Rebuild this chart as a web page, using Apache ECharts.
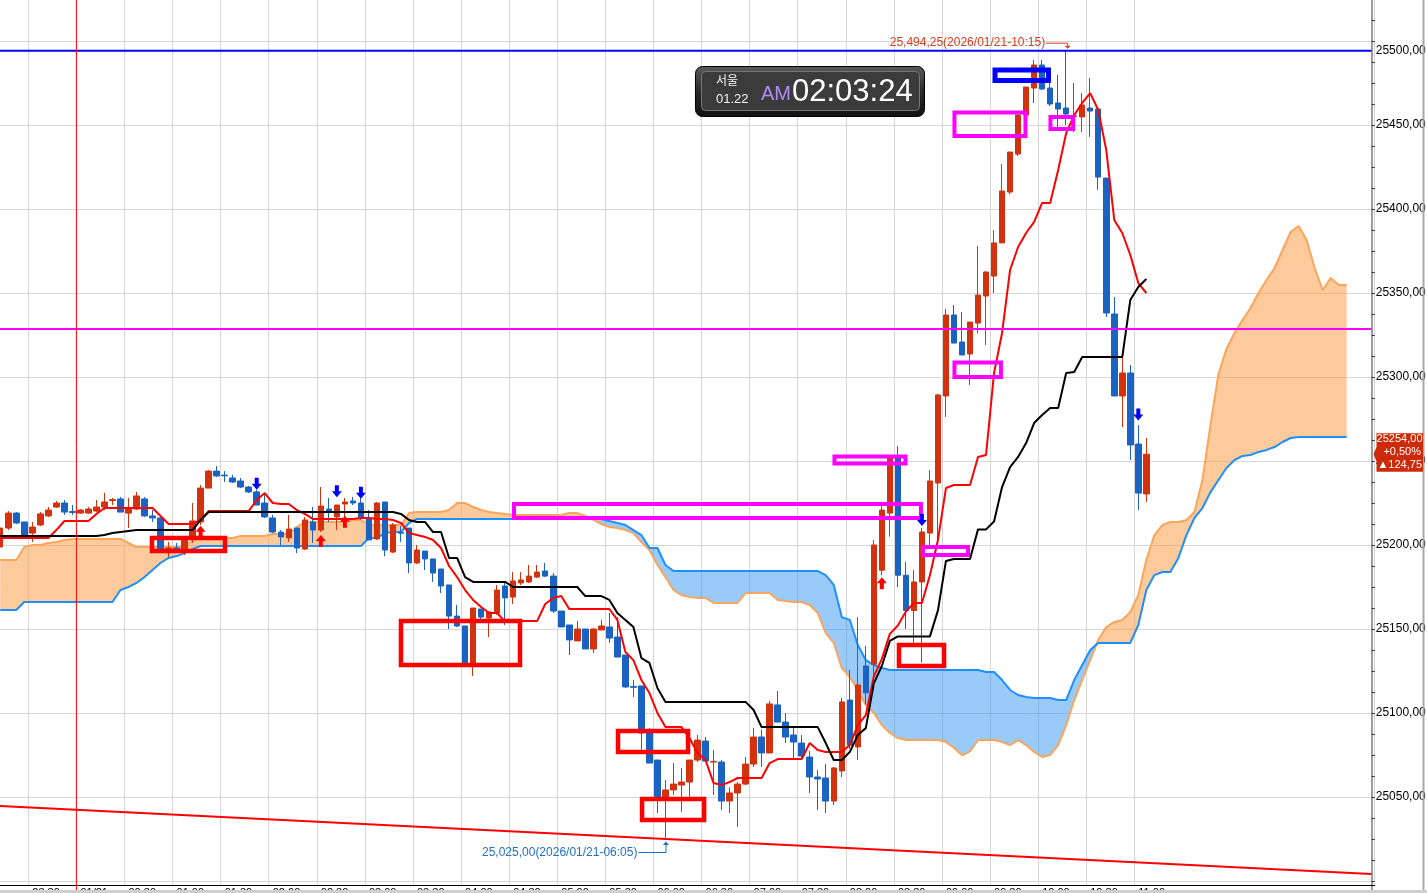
<!DOCTYPE html>
<html><head><meta charset="utf-8">
<script src="https://cdn.jsdelivr.net/npm/echarts@6.0.0/dist/echarts.min.js"></script>
<style>html,body{margin:0;padding:0;background:#fff;}#c{width:1427px;height:893px;}</style>
</head><body><div id="c"></div>
<script>
// ---------- data ----------
const slotCount = 172;
const tickIdx  = [4,10,16,22,28,34,40,46,52,58,64,70,76,82,88,94,100,106,112,118,124,130,136,142];
const tickText = ['23:30','01/21','00:30','01:00','01:30','02:00','02:30','03:00','03:30','04:00','04:30','05:00','05:30','06:00','06:30','07:00','07:30','08:00','08:30','09:00','09:30','10:00','10:30','11:00'];

const opens = [
25198.8,25210.1,25219.0,25213.7,25207.1,25211.9,25217.3,25222.6,25225.0,25219.9,
25219.0,25219.0,25220.2,25222.6,25226.5,25227.4,25219.0,25221.4,25227.4,25217.3,
25216.1,25197.0,25198.2,25197.0,25204.2,25213.7,25233.9,25244.0,25241.6,25239.9,
25238.1,25234.5,25231.6,25225.0,25216.1,25207.7,25204.2,25210.1,25197.6,25213.7,
25208.9,25221.4,25216.7,25224.4,25226.2,25225.0,25215.5,25203.6,25225.6,25195.8,
25207.5,25210.1,25189.3,25196.4,25191.7,25185.7,25176.2,25157.7,25151.8,25129.8,
25161.9,25156.5,25159.5,25175.6,25169.0,25177.4,25178.0,25180.9,25184.5,25181.5,
25160.7,25152.4,25142.9,25150.0,25138.1,25149.4,25151.2,25145.2,25134.5,25115.8,
25116.1,25088.1,25072.0,25050.0,25054.2,25057.1,25058.9,25072.0,25083.3,25070.8,
25070.8,25047.6,25052.4,25057.7,25069.6,25085.7,25076.2,25104.8,25094.6,25086.9,
25082.1,25073.8,25061.9,25061.3,25047.6,25065.5,25107.7,25079.8,25128.0,25129.0,
25185.0,25219.0,25251.8,25182.0,25161.0,25178.0,25207.1,25236.9,25288.7,25336.9,
25320.8,25313.7,25332.1,25348.2,25360.1,25379.8,25410.1,25432.7,25455.9,25472.0,
25485.7,25472.0,25463.1,25460.1,25455.0,25454.8,25460.1,25459.5,25418.4,25337.5,
25288.7,25302.4,25260.1,25230.4];
const closes = [
25210.1,25219.0,25213.1,25205.9,25210.7,25218.5,25220.8,25225.0,25219.6,25219.4,
25220.8,25221.4,25222.6,25225.6,25227.0,25219.6,25221.4,25229.2,25217.3,25216.1,
25197.6,25198.2,25197.0,25204.2,25214.3,25233.9,25244.0,25241.1,25241.2,25237.5,
25234.5,25231.6,25223.8,25216.7,25207.7,25204.8,25209.5,25198.2,25214.9,25208.9,
25223.2,25219.6,25223.8,25225.6,25225.0,25216.1,25203.0,25225.0,25197.0,25211.9,
25207.0,25189.3,25197.0,25191.7,25183.3,25175.6,25157.7,25151.8,25129.8,25162.5,
25157.1,25160.1,25173.2,25168.5,25178.6,25179.2,25181.5,25183.9,25181.5,25160.7,
25151.2,25143.5,25150.0,25138.1,25150.0,25151.8,25144.6,25133.3,25115.5,25115.3,
25088.1,25070.2,25050.0,25054.2,25057.7,25058.9,25072.0,25083.9,25071.4,25071.2,
25047.6,25052.4,25057.7,25069.6,25085.7,25076.2,25105.4,25094.6,25085.7,25082.7,
25074.4,25061.9,25060.7,25047.6,25067.3,25106.6,25080.9,25116.7,25112.0,25200.0,
25220.8,25251.8,25182.0,25161.0,25178.0,25207.7,25238.1,25289.3,25336.9,25320.2,
25313.1,25332.7,25348.8,25362.5,25379.8,25410.7,25433.9,25455.9,25472.6,25485.7,
25471.4,25462.5,25459.5,25456.5,25455.5,25461.9,25458.3,25419.0,25338.1,25288.7,
25302.4,25259.5,25230.9,25254.0];
const lows = [
25186.3,25208.9,25212.5,25205.4,25201.8,25211.3,25216.7,25222.0,25217.9,25217.9,
25218.5,25218.5,25219.6,25220.8,25223.8,25219.6,25210.1,25220.8,25216.7,25213.7,
25197.0,25192.9,25195.2,25194.0,25201.2,25211.9,25233.9,25240.5,25237.5,25236.9,
25233.9,25230.9,25223.8,25216.1,25207.1,25200.0,25201.8,25195.2,25197.0,25201.2,
25207.7,25213.7,25208.9,25216.1,25223.8,25214.9,25203.0,25203.0,25193.4,25195.2,
25201.8,25183.3,25188.7,25185.1,25178.0,25171.4,25150.0,25151.2,25129.8,25122.0,
25153.6,25145.2,25158.4,25152.4,25164.9,25176.2,25177.4,25180.3,25180.9,25159.5,
25151.2,25134.5,25142.9,25138.1,25135.7,25149.4,25141.7,25133.3,25114.9,25109.5,
25078.0,25070.2,25040.5,25025.0,25051.2,25041.1,25050.0,25070.8,25070.8,25051.2,
25042.3,25040.5,25032.2,25057.1,25067.9,25067.9,25076.2,25094.6,25082.1,25072.0,
25073.2,25052.4,25042.3,25040.5,25045.2,25061.9,25078.6,25072.0,25105.0,25116.0,
25182.0,25205.0,25175.0,25150.0,25140.0,25130.0,25200.0,25203.0,25276.2,25320.2,
25313.1,25295.2,25326.2,25319.0,25350.0,25379.8,25408.7,25431.5,25455.9,25463.1,
25470.8,25461.3,25448.8,25450.0,25445.8,25445.8,25442.9,25411.3,25335.7,25288.7,
25270.2,25250.6,25220.8,25225.6];
const highs = [
25210.7,25220.2,25219.6,25213.7,25213.7,25219.6,25222.6,25226.2,25226.8,25223.8,
25221.4,25222.6,25226.8,25231.0,25228.0,25228.6,25228.0,25231.6,25228.6,25220.8,
25216.1,25201.8,25201.2,25204.8,25225.0,25235.7,25244.6,25247.0,25244.0,25241.7,
25239.9,25235.1,25232.7,25230.9,25217.9,25208.9,25217.9,25210.1,25216.7,25222.6,
25234.5,25228.0,25223.8,25228.0,25228.6,25228.6,25220.8,25225.6,25225.6,25213.1,
25211.3,25210.1,25200.0,25196.4,25191.7,25185.7,25176.2,25164.3,25151.8,25162.5,
25161.9,25160.1,25176.2,25178.0,25183.9,25183.9,25188.1,25188.1,25189.3,25183.3,
25160.7,25152.4,25154.8,25150.0,25150.6,25155.4,25159.5,25157.1,25134.5,25119.6,
25116.1,25091.0,25072.0,25060.1,25070.2,25067.3,25072.0,25086.9,25085.7,25078.0,
25072.0,25055.8,25058.9,25073.8,25091.0,25090.0,25107.2,25113.1,25100.0,25091.6,
25086.9,25077.4,25066.1,25069.6,25067.9,25108.9,25125.6,25157.1,25140.0,25203.0,
25223.8,25253.6,25258.9,25190.0,25185.0,25210.0,25244.6,25290.0,25340.5,25342.9,
25338.7,25332.7,25378.0,25363.0,25387.5,25426.8,25433.9,25457.7,25472.6,25488.7,
25488.7,25475.0,25479.8,25494.25,25475.0,25469.0,25478.0,25460.1,25418.4,25347.6,
25311.9,25307.1,25271.4,25263.7];

const tenkan = [
25204.2,25204.2,25204.2,25204.2,25204.2,25204.2,25204.2,25208.9,25214.3,25214.3,
25214.3,25214.3,25218.5,25222.0,25222.0,25222.0,25222.0,25222.0,25222.0,25222.0,
25217.3,25212.5,25212.5,25212.5,25212.5,25214.9,25220.2,25220.2,25220.2,25220.2,
25220.2,25220.2,25226.8,25230.9,25225.0,25224.4,25224.4,25220.8,25218.5,25215.5,
25215.5,25215.5,25215.5,25215.5,25215.5,25216.1,25216.1,25215.5,25215.5,25214.9,
25213.1,25207.1,25205.9,25204.8,25203.0,25198.2,25187.5,25180.9,25173.2,25167.3,
25163.1,25159.5,25159.5,25154.2,25154.2,25154.8,25154.8,25154.8,25164.9,25168.5,
25169.6,25161.9,25161.9,25161.9,25161.9,25161.9,25161.9,25155.4,25136.3,25131.5,
25119.6,25111.9,25100.0,25091.6,25091.6,25091.6,25085.1,25076.2,25072.0,25058.3,
25057.1,25058.9,25061.3,25061.3,25061.3,25061.3,25070.2,25072.6,25072.6,25072.6,
25072.6,25082.1,25078.0,25076.8,25076.8,25076.8,25080.9,25092.8,25098.8,25121.8,
25132.2,25147.1,25152.1,25160.4,25165.5,25165.5,25182.0,25203.0,25233.9,25235.7,
25235.7,25235.7,25252.4,25253.6,25302.4,25326.2,25363.7,25377.4,25385.7,25392.3,
25403.6,25403.6,25423.2,25445.2,25455.9,25463.1,25469.0,25458.9,25435.1,25393.5,
25385.7,25372.6,25355.9,25350.0];
const kijun = [
25205.4,25205.4,25205.4,25205.4,25205.4,25205.4,25205.4,25205.4,25205.4,25205.4,
25205.4,25205.4,25205.4,25205.9,25207.1,25207.7,25208.3,25208.9,25208.9,25208.9,
25208.9,25208.9,25208.9,25208.9,25208.9,25214.9,25219.6,25219.6,25219.6,25219.6,
25219.6,25219.6,25219.6,25219.6,25219.6,25219.6,25219.6,25219.6,25219.6,25219.6,
25219.6,25219.6,25219.6,25219.6,25219.6,25219.6,25219.6,25219.6,25219.6,25219.6,
25218.5,25214.9,25213.7,25213.7,25207.7,25207.7,25192.3,25192.3,25180.9,25178.0,
25178.0,25178.0,25178.0,25178.0,25175.0,25175.0,25175.0,25175.0,25175.0,25175.0,
25175.0,25175.0,25175.0,25169.6,25169.6,25169.6,25167.3,25159.5,25155.4,25151.2,
25132.7,25129.8,25114.9,25106.6,25106.6,25106.6,25106.6,25106.6,25106.6,25106.6,
25106.6,25106.6,25106.6,25106.6,25101.8,25091.6,25091.6,25091.6,25091.6,25091.6,
25091.6,25091.6,25091.6,25082.1,25072.0,25072.0,25076.8,25086.9,25091.0,25117.6,
25128.0,25142.9,25145.6,25145.6,25145.6,25145.6,25145.6,25161.1,25190.5,25191.7,
25191.7,25191.7,25209.3,25209.3,25214.0,25234.5,25246.4,25252.4,25260.7,25272.6,
25277.4,25281.5,25281.5,25302.4,25303.0,25311.9,25311.9,25311.9,25311.9,25311.9,
25311.9,25345.8,25353.6,25358.3];

const senkouA = [
25191.1,25191.1,25191.1,25198.8,25200.0,25200.0,25201.2,25201.8,25203.0,25203.6,
25203.6,25203.6,25203.6,25203.6,25203.6,25203.6,25201.2,25198.8,25198.8,25198.8,
25198.8,25198.8,25198.8,25198.8,25203.0,25204.2,25204.2,25204.2,25204.2,25204.2,
25205.4,25205.4,25205.4,25205.4,25206.5,25206.5,25206.5,25210.7,25213.7,25213.7,
25213.7,25213.7,25213.7,25213.7,25214.9,25214.9,25211.9,25211.9,25211.9,25211.9,
25211.9,25219.0,25219.6,25219.6,25219.6,25219.6,25220.8,25225.0,25225.0,25222.6,
25220.8,25219.6,25219.0,25218.5,25217.9,25217.9,25217.9,25217.9,25217.9,25217.9,
25217.9,25219.0,25219.0,25217.3,25214.9,25212.5,25210.7,25210.1,25208.9,25207.1,
25201.8,25197.0,25188.1,25180.9,25173.2,25170.2,25169.0,25168.5,25168.5,25165.5,
25165.5,25165.5,25165.5,25171.4,25171.4,25171.4,25171.4,25167.3,25166.7,25166.1,
25166.1,25164.3,25159.5,25147.6,25141.7,25126.8,25121.4,25113.7,25104.8,25100.0,
25092.8,25088.1,25085.1,25083.9,25083.9,25083.9,25083.9,25083.9,25082.7,25079.3,
25074.8,25077.1,25083.9,25083.9,25083.9,25082.7,25080.9,25083.9,25080.9,25076.8,
25073.8,25075.0,25080.9,25092.8,25107.7,25119.6,25131.5,25143.5,25151.2,25154.2,
25155.4,25160.1,25170.2,25191.1,25205.9,25211.9,25213.7,25213.7,25214.9,25219.6,
25238.7,25271.4,25301.8,25316.8,25326.2,25333.9,25341.1,25350.0,25357.7,25364.9,
25375.6,25386.3,25389.9,25381.5,25364.9,25351.8,25358.9,25354.7,25354.7];
const senkouB = [
25161.3,25161.3,25161.3,25166.1,25166.1,25166.1,25166.1,25166.1,25166.1,25166.1,
25166.1,25166.1,25166.1,25166.1,25166.1,25173.2,25175.0,25177.4,25180.9,25185.1,
25189.3,25192.3,25193.4,25195.2,25197.6,25199.4,25199.4,25199.4,25199.4,25199.4,
25199.4,25199.4,25199.4,25199.4,25199.4,25199.4,25199.4,25199.4,25199.4,25199.4,
25199.4,25199.4,25199.4,25199.4,25199.4,25199.4,25204.2,25204.2,25207.1,25207.7,
25207.7,25213.1,25215.5,25215.5,25215.5,25215.5,25215.5,25215.5,25215.5,25215.5,
25215.5,25215.5,25215.5,25215.5,25215.5,25215.5,25215.5,25215.5,25215.5,25215.5,
25215.5,25215.5,25215.5,25215.5,25215.5,25215.5,25214.3,25213.1,25211.9,25208.9,
25205.9,25198.2,25198.2,25188.1,25184.5,25184.5,25184.5,25184.5,25184.5,25184.5,
25184.5,25184.5,25184.5,25184.5,25184.5,25184.5,25184.5,25184.5,25184.5,25184.5,
25184.5,25184.5,25184.5,25182.1,25176.2,25157.1,25155.4,25140.5,25131.5,25128.6,
25126.8,25125.6,25125.6,25125.6,25125.6,25125.6,25125.6,25125.6,25125.6,25125.6,
25125.6,25125.6,25125.6,25124.4,25124.4,25119.6,25113.7,25110.7,25109.5,25108.9,
25108.9,25108.9,25107.7,25107.7,25119.6,25128.6,25137.5,25141.7,25141.7,25141.7,
25141.7,25141.7,25152.4,25173.2,25182.1,25183.9,25183.9,25192.3,25205.9,25216.1,
25222.0,25231.5,25238.7,25245.8,25250.6,25253.0,25253.6,25255.4,25256.6,25258.3,
25261.3,25263.7,25264.3,25264.3,25264.3,25264.3,25264.3,25264.3,25264.3];

// annotations (data coordinates: slot index, price)
const highPoint = [133, 25494.25];
const lowPoint  = [83, 25025.00];
const lastClose = [143, 25254.00];
const hLineBlue = 25494.25;
const hLineMagenta = 25328.6;
const vLineRed = 9.5;
const trendX = [-0.5, 171.1];
const trendY = [25044.8, 25004.2];
const redBoxes = [[18.93,25204.2,28.04,25196.4],[50.0,25154.8,64.85,25128.6],[77.08,25089.3,85.82,25076.8],[80.08,25048.8,87.82,25036.3],[112.14,25140.5,117.76,25128.0]];
const magentaBoxes = [[64.1,25224.4,114.88,25216.1],[104.09,25252.7,112.95,25248.5],[115.13,25198.8,120.75,25194.0],[119.06,25308.6,124.86,25300.0],[119.06,25457.4,127.92,25443.5],[131.04,25454.8,133.87,25447.6]];
const blueBoxes = [[124.12,25482.7,130.79,25476.5]];
const downArrowX = [32, 42, 45, 115, 142];
const downArrowY = [25236.5, 25232.0, 25231.1, 25214.9, 25277.7];
const upArrowX = [25, 40, 43, 110];
const upArrowY = [25207.9, 25202.4, 25213.9, 25177.2];

// ---------- build ----------
const cats = []; for (let i = 0; i < slotCount; i++) cats.push(String(i));
const tickMap = {}; tickIdx.forEach((k, j) => tickMap[k] = tickText[j]);
const candleData = opens.map((o, i) => [o, closes[i], lows[i], highs[i]]);
const cloudBase = senkouA.map((a, i) => Math.min(a, senkouB[i]));
const cloudUp = senkouA.map((a, i) => Math.max(a - senkouB[i], 0));
const cloudDown = senkouA.map((a, i) => Math.max(senkouB[i] - a, 0));

const RED = '#D3320E', BLUE = '#1A63C2';
const FONT = 'Liberation Sans';

function boxSeries(data, color, width) {
  return {
    type: 'custom', xAxisIndex: 1, yAxisIndex: 0, data: data, encode: { x: [0, 2], y: [1, 3] },
    clip: false, z: 8, silent: true,
    renderItem: function (params, api) {
      const p1 = api.coord([api.value(0), api.value(1)]);
      const p2 = api.coord([api.value(2), api.value(3)]);
      return { type: 'rect', shape: { x: Math.min(p1[0], p2[0]), y: Math.min(p1[1], p2[1]), width: Math.abs(p2[0] - p1[0]), height: Math.abs(p2[1] - p1[1]) },
        style: { fill: 'none', stroke: color, lineWidth: width } };
    }
  };
}
function segLine(data, color, width, z) {
  return { type: 'line', xAxisIndex: 1, yAxisIndex: 0, data: data, symbol: 'none', silent: true, z: z,
    lineStyle: { color: color, width: width } };
}

const chart = echarts.init(document.getElementById('c'), null, { renderer: 'canvas' });
const GL = -3.76, GR = 52.26;
const option = {
  animation: false,
  backgroundColor: '#ffffff',
  grid: [
    { left: GL, right: GR, top: -43, bottom: -72, outerBoundsMode: 'none', containLabel: false },
    { left: GL, right: GR, top: 0, bottom: 8, outerBoundsMode: 'none', containLabel: false }
  ],
  xAxis: [
    { type: 'category', gridIndex: 0, data: cats, boundaryGap: true, show: false },
    { type: 'value', gridIndex: 0, min: -0.5, max: slotCount - 0.5, show: false, axisLine: { onZero: false } },
    { type: 'category', gridIndex: 1, data: cats, boundaryGap: true,
      axisLine: { show: true, onZero: false, lineStyle: { color: '#000', width: 1 } },
      axisTick: { show: false },
      axisLabel: { interval: (i) => tickMap[i] !== undefined, formatter: (v) => tickMap[+v] || '',
        align: 'left', margin: 2, fontSize: 11, color: '#000', fontFamily: FONT, hideOverlap: false },
      splitLine: { show: true, interval: (i) => tickMap[i] !== undefined, lineStyle: { color: '#D6D6D6', width: 1 } } }
  ],
  yAxis: [
    { type: 'value', gridIndex: 0, position: 'right', offset: -3, min: 24950, max: 25550, interval: 50,
      axisLine: { show: true, onZero: false, lineStyle: { color: '#9C9C9C', width: 2 } },
      axisTick: { show: true, length: 3, lineStyle: { color: '#333' } },
      minorTick: { show: true, splitNumber: 4, length: 3, lineStyle: { color: '#333' } },
      axisLabel: { margin: 4, fontSize: 12, color: '#000', fontFamily: FONT,
        formatter: (v) => { if (v < 25050 || v > 25500) return ''; const s = v.toFixed(2).replace('.', ','); return v === 25500 ? '{t|' + s + '}' : s; },
        rich: { t: { padding: [20, 0, 0, 0], fontSize: 12, fontFamily: FONT, color: '#000' } } },
      splitLine: { show: true, lineStyle: { color: '#D6D6D6', width: 1 } } },
    { type: 'value', gridIndex: 1, show: false, min: 0, max: 1,
      axisLine: { show: false, onZero: false }, axisTick: { show: false }, axisLabel: { show: false }, splitLine: { show: false } }
  ],
  series: [
    { name: 'cloudBase', type: 'line', xAxisIndex: 0, yAxisIndex: 0, stack: 'cloud', data: cloudBase, symbol: 'none', silent: true, z: 1,
      lineStyle: { opacity: 0 } },
    { name: 'cloudUp', type: 'line', xAxisIndex: 0, yAxisIndex: 0, stack: 'cloud', data: cloudUp, symbol: 'none', silent: true, z: 1,
      lineStyle: { opacity: 0 }, areaStyle: { color: 'rgba(251,160,72,0.55)', opacity: 1 } },
    { name: 'cloudDown', type: 'line', xAxisIndex: 0, yAxisIndex: 0, stack: 'cloud', data: cloudDown, symbol: 'none', silent: true, z: 1,
      lineStyle: { opacity: 0 }, areaStyle: { color: 'rgba(30,140,240,0.45)', opacity: 1 } },
    { name: 'senkouA', type: 'line', xAxisIndex: 0, yAxisIndex: 0, data: senkouA, symbol: 'none', silent: true, z: 2,
      lineStyle: { color: '#FAA55C', width: 2 } },
    { name: 'senkouB', type: 'line', xAxisIndex: 0, yAxisIndex: 0, data: senkouB, symbol: 'none', silent: true, z: 2,
      lineStyle: { color: '#1E8FFF', width: 2 } },
    { name: 'candles', type: 'candlestick', xAxisIndex: 0, yAxisIndex: 0, data: candleData, barWidth: 6, z: 3, silent: true,
      itemStyle: { color: RED, color0: BLUE, borderColor: RED, borderColor0: BLUE, borderWidth: 1 } },
    { name: 'tenkan', type: 'line', xAxisIndex: 0, yAxisIndex: 0, data: tenkan, symbol: 'none', silent: true, z: 4,
      lineStyle: { color: '#FF0000', width: 2 } },
    { name: 'kijun', type: 'line', xAxisIndex: 0, yAxisIndex: 0, data: kijun, symbol: 'none', silent: true, z: 4,
      lineStyle: { color: '#000000', width: 2 } },
    segLine([[trendX[0], trendY[0]], [trendX[1], trendY[1]]], '#FF0000', 2, 5),
    segLine([[-0.5, hLineBlue], [171.1, hLineBlue]], '#0000FF', 2, 5),
    segLine([[-0.5, hLineMagenta], [171.1, hLineMagenta]], '#FF00FF', 2, 5),
    { type: 'line', xAxisIndex: 1, yAxisIndex: 0, data: [[vLineRed, 24950], [vLineRed, 25550]], symbol: 'none', silent: true, z: 5,
      lineStyle: { color: '#FF0000', width: 1 } },
    boxSeries(redBoxes, '#FF0000', 4.5),
    boxSeries(magentaBoxes, '#FF00FF', 4),
    boxSeries(blueBoxes, '#0000FF', 5),
    { type: 'scatter', xAxisIndex: 1, yAxisIndex: 0, z: 9, silent: true,
      data: downArrowX.map((x, i) => [x, downArrowY[i]]),
      symbol: 'path://M3,0L7,0L7,6L10,6L5,12L0,6L3,6Z', symbolSize: [10, 12], itemStyle: { color: '#0000FF', opacity: 1 } },
    { type: 'scatter', xAxisIndex: 1, yAxisIndex: 0, z: 9, silent: true,
      data: upArrowX.map((x, i) => [x, upArrowY[i]]),
      symbol: 'path://M5,0L10,6L7,6L7,12L3,12L3,6L0,6Z', symbolSize: [10, 12], itemStyle: { color: '#FF0000', opacity: 1 } }
  ]
};
chart.setOption(option);

const finder = { xAxisIndex: 1, yAxisIndex: 0 };
const hp = chart.convertToPixel(finder, highPoint);
const lp = chart.convertToPixel(finder, lowPoint);
const cp = chart.convertToPixel(finder, lastClose);
const fmt = (v) => v.toFixed(2).replace('.', ',').replace(/^(\d\d)(\d\d\d)/, '$1,$2');
const HC = '#D4401C', LC = '#1F6FC6';

const graphics = [
  { type: 'text', z: 50, style: { x: hp[0] - 21, y: hp[1] - 7.5, text: fmt(highPoint[1]) + '(2026/01/21-10:15)', fill: HC, font: '12px "' + FONT + '"', align: 'right', verticalAlign: 'middle' } },
  { type: 'polyline', z: 50, shape: { points: [[hp[0] - 20, hp[1] - 7.5], [hp[0] + 1.5, hp[1] - 7.5], [hp[0] + 1.5, hp[1] - 4]] }, style: { stroke: HC, lineWidth: 1, fill: 'none' } },
  { type: 'polygon', z: 50, shape: { points: [[hp[0] - 1.5, hp[1] - 5], [hp[0] + 4.5, hp[1] - 5], [hp[0] + 1.5, hp[1] - 2]] }, style: { fill: HC } },
  { type: 'text', z: 50, style: { x: lp[0] - 28, y: lp[1] + 13.5, text: fmt(lowPoint[1]) + '(2026/01/21-06:05)', fill: LC, font: '12px "' + FONT + '"', align: 'right', verticalAlign: 'middle' } },
  { type: 'polyline', z: 50, shape: { points: [[lp[0] - 27, lp[1] + 13.5], [lp[0] + 0.5, lp[1] + 13.5], [lp[0] + 0.5, lp[1] + 4]] }, style: { stroke: LC, lineWidth: 1, fill: 'none' } },
  { type: 'polygon', z: 50, shape: { points: [[lp[0] - 2.5, lp[1] + 6], [lp[0] + 3.5, lp[1] + 6], [lp[0] + 0.5, lp[1] + 2.5]] }, style: { fill: LC } },
  { type: 'polygon', z: 60, shape: { points: [[1376.5, cp[1] - 21], [1423, cp[1] - 21], [1423, cp[1] + 17.5], [1376.5, cp[1] + 17.5], [1376.5, cp[1] + 7], [1373.5, cp[1]], [1376.5, cp[1] - 7]] }, style: { fill: '#CC2A08' } },
  { type: 'text', z: 61, style: { x: 1422.5, y: cp[1] - 15.5, text: lastClose[1].toFixed(2).replace('.', ','), fill: '#fff', font: '11px "' + FONT + '"', align: 'right', verticalAlign: 'middle' } },
  { type: 'text', z: 61, style: { x: 1421, y: cp[1] - 2, text: '+0,50%', fill: '#fff', font: '11px "' + FONT + '"', align: 'right', verticalAlign: 'middle' } },
  { type: 'text', z: 61, style: { x: 1422, y: cp[1] + 11, text: '▲124,75', fill: '#fff', font: '11px "' + FONT + '"', align: 'right', verticalAlign: 'middle' } },
  { type: 'line', z: 40, shape: { x1: 1423.5, y1: 0, x2: 1423.5, y2: 893 }, style: { stroke: '#A8A8A8', lineWidth: 2 } },
  { type: 'rect', z: 40, shape: { x: 0, y: 890, width: 1427, height: 3 }, style: { fill: '#CFCFCF' } },
  { type: 'group', x: 695, y: 66, z: 100, children: [
    { type: 'rect', shape: { x: 0.5, y: 0.5, width: 229, height: 50, r: 7 },
      style: { fill: new echarts.graphic.LinearGradient(0, 0, 0, 1, [{ offset: 0, color: '#5a5a5a' }, { offset: 0.5, color: '#2a2a2a' }, { offset: 1, color: '#101010' }]), stroke: '#000', lineWidth: 1 } },
    { type: 'rect', shape: { x: 6.5, y: 5.5, width: 218, height: 39, r: 4 }, style: { fill: '#3b3b3b', stroke: '#777', lineWidth: 1 } },
    { type: 'text', style: { x: 21, y: 14.5, text: '서울', fill: '#f2f2f2', font: '12px "Noto Sans CJK KR"', verticalAlign: 'middle' } },
    { type: 'text', style: { x: 21, y: 33, text: '01.22', fill: '#f2f2f2', font: '13px "' + FONT + '"', verticalAlign: 'middle' } },
    { type: 'text', style: { x: 66, y: 28, text: 'AM', fill: '#AE8CF5', font: '20px "' + FONT + '"', verticalAlign: 'middle' } },
    { type: 'text', style: { x: 97, y: 26.5, text: '02:03:24', fill: '#ffffff', font: '31px "' + FONT + '"', verticalAlign: 'middle' } }
  ] }
];
chart.setOption({ graphic: graphics });
</script>
</body></html>
